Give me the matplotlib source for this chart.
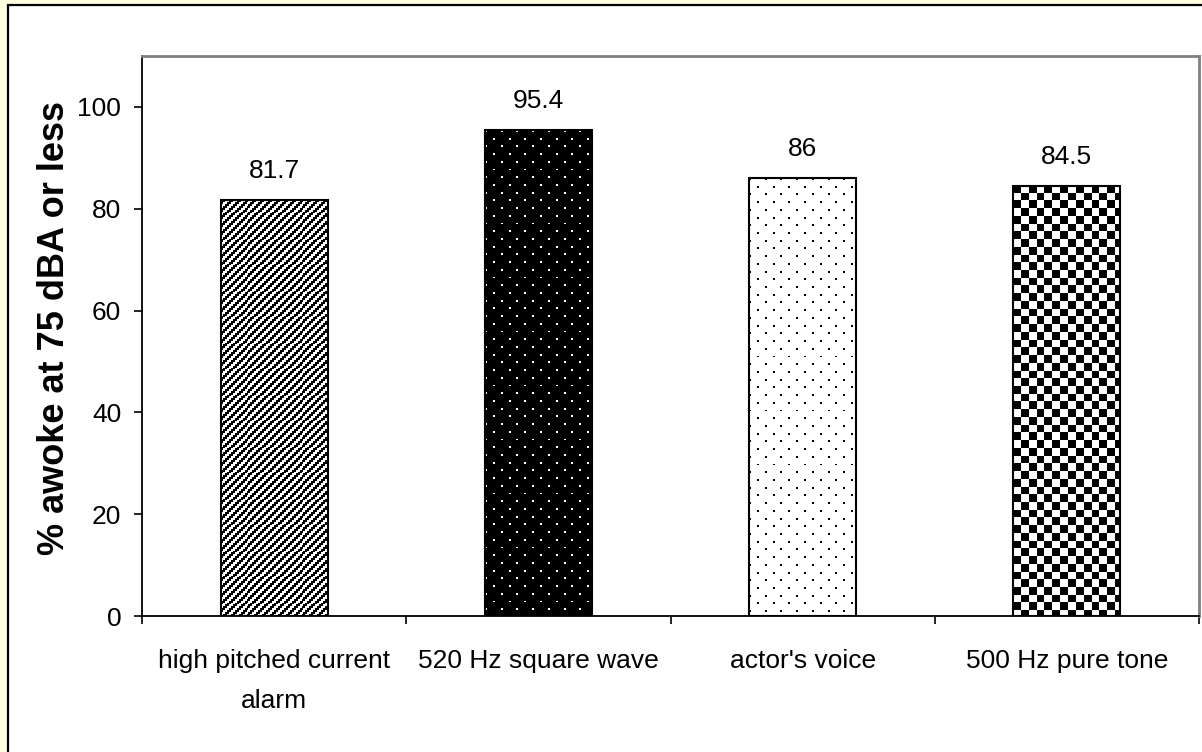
import numpy as np
import matplotlib
matplotlib.use("Agg")
import matplotlib.pyplot as plt
from matplotlib.patches import Rectangle

categories = ["high pitched current\nalarm", "520 Hz square wave", "actor's voice", "500 Hz pure tone"]
awake_pct = [81.7, 95.4, 86, 84.5]
value_labels = ["81.7", "95.4", "86", "84.5"]
fill_kinds = ["stripes", "dots_dark", "dots_light", "checker"]
y_ticks = [0, 20, 40, 60, 80, 100]

FONT = ["Liberation Sans", "DejaVu Sans"]
CELL_PX = 1.93  # size of one pattern pixel on screen


def pattern_tile(kind):
    # 8x8 bitmap fills, 0 = black, 1 = white
    i, j = np.mgrid[0:8, 0:8]
    if kind == "stripes":
        return ((i + j) % 4 >= 2).astype(float)
    if kind == "checker":
        return (((i // 4) + (j // 4)) % 2).astype(float)
    dots = ((i == 0) & (j == 0)) | ((i == 4) & (j == 4))
    if kind == "dots_dark":
        return dots.astype(float)
    return 1.0 - dots.astype(float)


def fill_bar(ax, bar, kind):
    x0, y0 = bar.get_x(), bar.get_y()
    w, h = bar.get_width(), bar.get_height()
    (px0, py0), (px1, py1) = ax.transData.transform([(x0, y0), (x0 + w, y0 + h)])
    nx = max(1, int(round((px1 - px0) / CELL_PX)))
    ny = max(1, int(round((py1 - py0) / CELL_PX)))
    tile = pattern_tile(kind)
    img = np.tile(tile, (ny // 8 + 1, nx // 8 + 1))[:ny, :nx]
    im = ax.imshow(img, cmap="gray", vmin=0, vmax=1, extent=(x0, x0 + w, y0, y0 + h),
                   interpolation="nearest", aspect="auto", zorder=1.5)
    im.set_clip_path(bar)


fig = plt.figure(figsize=(12.02, 7.52), dpi=100, facecolor="#FFFFE0")
# white chart panel with a black frame
fig.add_artist(Rectangle((8 / 1202, -0.05), 1.1, 1 - 5 / 752 + 0.05, transform=fig.transFigure,
                         facecolor="white", edgecolor="black", linewidth=1.6, zorder=-1))

ax = fig.add_axes([142 / 1202, 1 - 616 / 752, 1057 / 1202, 560 / 752])
ax.set_facecolor("white")

x = np.arange(len(categories))
bars = ax.bar(x, awake_pct, width=0.405, facecolor="none", edgecolor="black", linewidth=1.5, zorder=2)

ax.set_xlim(-0.5, len(categories) - 0.5)
ax.set_ylim(0, 110)

for bar, kind in zip(bars, fill_kinds):
    fill_bar(ax, bar, kind)

ax.set_xlim(-0.5, len(categories) - 0.5)
ax.set_ylim(0, 110)

for bar, txt in zip(bars, value_labels):
    ax.annotate(txt, (bar.get_x() + bar.get_width() / 2, bar.get_height()),
                xytext=(0, 21), textcoords="offset points", ha="center", va="center",
                fontsize=19, family=FONT)

ax.set_yticks(y_ticks)
ax.set_yticklabels([str(v) for v in y_ticks], fontsize=19, family=FONT)
ax.tick_params(axis="y", direction="out", length=6, width=1.2, pad=9)

ax.set_xticks(x)
ax.set_xticklabels(categories, fontsize=19, family=FONT, linespacing=1.8, va="top")
ax.set_xticks(np.arange(len(categories) + 1) - 0.5, minor=True)
ax.tick_params(axis="x", which="major", length=0, pad=24)
ax.tick_params(axis="x", which="minor", direction="out", length=6, width=1.2)

ax.set_ylabel("% awoke at 75 dBA or less", fontsize=26, fontweight="bold", family="Liberation Sans")
ax.yaxis.set_label_coords(-0.066, 0.514)

for side in ["left", "bottom"]:
    ax.spines[side].set_color("black")
    ax.spines[side].set_linewidth(1.3)
for side in ["top", "right"]:
    ax.spines[side].set_color("#808080")
    ax.spines[side].set_linewidth(2)

fig.savefig("out.png", dpi=100, facecolor=fig.get_facecolor())
